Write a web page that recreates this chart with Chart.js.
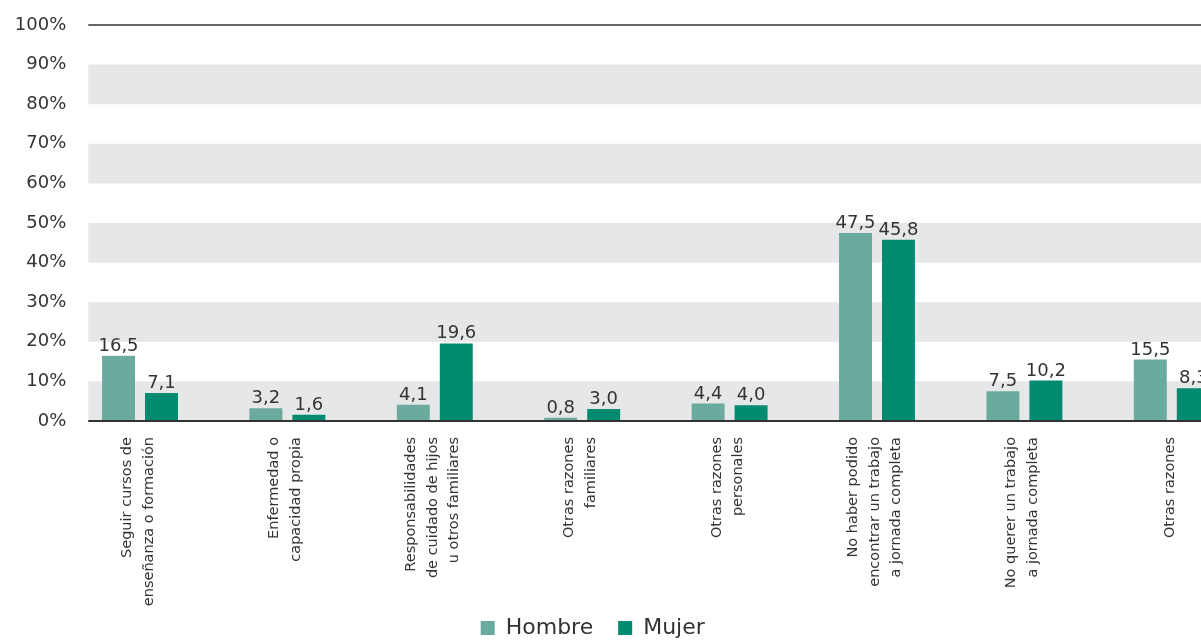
<!DOCTYPE html>
<html lang="es">
<head>
<meta charset="utf-8">
<title>Razones de la jornada parcial</title>
<script src="https://cdn.jsdelivr.net/npm/chart.js@4"></script>
<style>
    html, body { margin: 0; padding: 0; background: #fff; overflow: hidden; }
    #wrap { position: absolute; left: -60px; top: 0; width: 1310px; height: 640px; }
</style>
</head>
<body>
<div id="wrap"><canvas id="razonesChart" width="1310" height="640"></canvas></div>
<script>
// datos del gráfico
const categorias = [
    ['Seguir cursos de', 'enseñanza o formación'],
    ['Enfermedad o', 'capacidad propia'],
    ['Responsabilidades', 'de cuidado de hijos', 'u otros familiares'],
    ['Otras razones', 'familiares'],
    ['Otras razones', 'personales'],
    ['No haber podido', 'encontrar un trabajo', 'a jornada completa'],
    ['No querer un trabajo', 'a jornada completa'],
    ['Otras razones']
];
const hombre = [16.5, 3.2, 4.1, 0.8, 4.4, 47.5, 7.5, 15.5];
const mujer = [7.1, 1.6, 19.6, 3.0, 4.0, 45.8, 10.2, 8.3];
const ticksY = [0, 10, 20, 30, 40, 50, 60, 70, 80, 90, 100];

const FONT = "'DejaVu Sans', sans-serif";
const TEXT_COLOR = '#333333';
const BAND_INSET = 22; // las bandas empiezan un poco a la derecha del eje

// bandas grises y líneas horizontales
const bandsPlugin = {
    id: 'bands',
    beforeDatasetsDraw(chart) {
        const { ctx, chartArea, scales: { y } } = chart;
        const x0 = chartArea.left + BAND_INSET;
        ctx.save();
        ctx.fillStyle = '#e6e7e8';
        for (let v = 0; v < 100; v += 20) {
            const top = y.getPixelForValue(v + 10);
            const bottom = y.getPixelForValue(v);
            ctx.fillRect(x0, top, chartArea.right - x0, bottom - top);
        }
        ctx.strokeStyle = TEXT_COLOR;
        ctx.lineWidth = 1.5;
        const yTop = y.getPixelForValue(100);
        ctx.beginPath();
        ctx.moveTo(x0, yTop);
        ctx.lineTo(chartArea.right, yTop);
        ctx.stroke();
        ctx.restore();
    },
    afterDatasetsDraw(chart) {
        const { ctx, chartArea, scales: { y } } = chart;
        const x0 = chartArea.left + BAND_INSET;
        const y0 = y.getPixelForValue(0);
        ctx.save();
        ctx.strokeStyle = TEXT_COLOR;
        ctx.lineWidth = 2;
        ctx.beginPath();
        ctx.moveTo(x0, y0);
        ctx.lineTo(chartArea.right, y0);
        ctx.stroke();
        ctx.restore();
    }
};

// valores encima de las barras
const valueLabelsPlugin = {
    id: 'valueLabels',
    afterDatasetsDraw(chart) {
        const ctx = chart.ctx;
        ctx.save();
        ctx.font = '18px ' + FONT;
        ctx.fillStyle = TEXT_COLOR;
        ctx.textAlign = 'center';
        ctx.textBaseline = 'alphabetic';
        chart.data.datasets.forEach((ds, di) => {
            chart.getDatasetMeta(di).data.forEach((bar, i) => {
                const txt = ds.data[i].toFixed(1).replace('.', ',');
                ctx.fillText(txt, bar.x, bar.y - 5);
            });
        });
        ctx.restore();
    }
};

// etiquetas verticales del eje X (centradas por grupo de líneas)
const xLabelsPlugin = {
    id: 'xLabels',
    afterDraw(chart) {
        const { ctx, chartArea, scales: { x } } = chart;
        const lineH = 21.5;
        ctx.save();
        ctx.font = '14.5px ' + FONT;
        ctx.fillStyle = TEXT_COLOR;
        ctx.textAlign = 'right';
        ctx.textBaseline = 'middle';
        categorias.forEach((lines, i) => {
            const px = x.getPixelForTick(i);
            ctx.save();
            ctx.translate(px - 2, chartArea.bottom + 16);
            ctx.rotate(-Math.PI / 2);
            lines.forEach((line, li) => {
                ctx.fillText(line, 0, (li - (lines.length - 1) / 2) * lineH);
            });
            ctx.restore();
        });
        ctx.restore();
    }
};

const ctx = document.getElementById('razonesChart').getContext('2d');
new Chart(ctx, {
    type: 'bar',
    data: {
        labels: categorias,
        datasets: [{
            label: 'Hombre',
            data: hombre,
            backgroundColor: '#6aab9e',
            categoryPercentage: 0.583,
            barPercentage: 0.767
        }, {
            label: 'Mujer',
            data: mujer,
            backgroundColor: '#008a70',
            categoryPercentage: 0.583,
            barPercentage: 0.767
        }]
    },
    options: {
        responsive: false,
        animation: false,
        layout: {
            padding: { top: 25, right: 4.5, bottom: -9, left: 0 }
        },
        plugins: {
            legend: {
                position: 'bottom',
                labels: {
                    boxWidth: 14,
                    boxHeight: 14,
                    padding: 25,
                    color: TEXT_COLOR,
                    font: { family: FONT, size: 22 }
                }
            },
            tooltip: { enabled: false }
        },
        scales: {
            x: {
                offset: true,
                grid: { display: false, drawTicks: false },
                border: { display: false },
                ticks: { display: false },
                afterFit: (scale) => { scale.height = 171; }
            },
            y: {
                min: 0,
                max: 100,
                grid: { display: false, drawTicks: false },
                border: { display: false },
                afterBuildTicks: (scale) => {
                    scale.ticks = ticksY.map(v => ({ value: v }));
                },
                ticks: {
                    padding: 0,
                    color: TEXT_COLOR,
                    font: { family: FONT, size: 18 },
                    callback: (v) => v + '%'
                },
                afterFit: (scale) => { scale.width = 126.3; }
            }
        }
    },
    plugins: [bandsPlugin, valueLabelsPlugin, xLabelsPlugin]
});
</script>
</body>
</html>
